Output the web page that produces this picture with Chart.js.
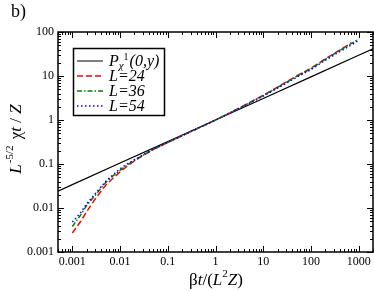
<!DOCTYPE html>
<html><head><meta charset="utf-8">
<script src="https://cdn.jsdelivr.net/npm/chart.js@4/dist/chart.umd.min.js"></script>
<style>html,body{margin:0;padding:0;background:#fff}#wrap{width:374px;height:291px;position:relative}</style>
</head><body><div id="wrap"><canvas id="c" width="374" height="291"></canvas></div>
<script>
// ---- data ----
const xTickValues = [0.001, 0.01, 0.1, 1, 10, 100, 1000];
const xTickLabels = ['0.001', '0.01', '0.1', '1', '10', '100', '1000'];
const yTickValues = [0.001, 0.01, 0.1, 1, 10, 100];
const yTickLabels = ['0.001', '0.01', '0.1', '1', '10', '100'];

const xP = [0.0005, 0.001, 0.01, 0.1, 1, 10, 100, 1000, 2000];
const yP = [0.024, 0.034, 0.105, 0.323, 1.0, 3.09, 9.55, 29.5, 41.6];

const xL24 = [0.001,0.0015,0.002,0.003,0.005,0.007,0.01,0.015,0.02,0.03,0.05,0.1,0.2,0.5,1,2,5,10,20,50,100,200,500,700];
const yL24 = [0.0027,0.0050,0.0083,0.016,0.033,0.047,0.066,0.094,0.118,0.155,0.215,0.31,0.44,0.70,1.0,1.45,2.45,3.65,5.6,10,15,24.5,45,57];
const xL36 = [0.001,0.0015,0.002,0.003,0.005,0.007,0.01,0.015,0.02,0.03,0.05,0.1,0.2,0.5,1,2,5,10,20,50,100,200,500,1000];
const yL36 = [0.0038,0.0070,0.0115,0.0195,0.038,0.053,0.072,0.099,0.121,0.157,0.216,0.31,0.44,0.70,1.0,1.45,2.4,3.6,5.5,9.8,14.6,24,44,69];
const xL54 = [0.001,0.0015,0.002,0.003,0.005,0.007,0.01,0.015,0.02,0.03,0.05,0.1,0.2,0.5,1,2,5,10,20,50,100,200,500,950];
const yL54 = [0.0048,0.0079,0.0125,0.021,0.040,0.056,0.078,0.104,0.125,0.160,0.218,0.31,0.44,0.70,1.0,1.44,2.35,3.5,5.3,9.4,14,22.8,41,62];

const SERIF = '"Liberation Serif", "Times New Roman", serif';

function ds(label, xs, ys, color, dash, width, order) {
  return { label, data: xs.map((x, i) => ({ x, y: ys[i] })), borderColor: color, backgroundColor: color,
    borderDash: dash, borderWidth: width, pointRadius: 0, showLine: true, fill: false, tension: 0, order };
}

function rich(ctx, x, y, parts, align) {
  let w = 0;
  parts.forEach(p => { ctx.font = p.f; w += ctx.measureText(p.t).width + (p.dx || 0); });
  let cx = align === 'center' ? x - w / 2 : x;
  parts.forEach(p => {
    ctx.font = p.f;
    ctx.fillText(p.t, cx + (p.dx || 0), y + (p.dy || 0));
    cx += ctx.measureText(p.t).width + (p.dx || 0);
  });
}

const decor = {
  id: 'decor',
  afterDraw(chart) {
    const ctx = chart.ctx, ca = chart.chartArea;
    const sx = chart.scales.x, sy = chart.scales.y;
    ctx.save();
    ctx.strokeStyle = '#000';
    // ticks (inward, all four sides)
    ctx.lineWidth = 1;
    ctx.beginPath();
    for (let d = -4; d <= 3; d++) {
      for (let m = 1; m <= 9; m++) {
        const v = m * Math.pow(10, d);
        const len = m === 1 ? 6 : 3;
        if (v >= sx.min && v <= sx.max) {
          const px = Math.round(sx.getPixelForValue(v)) + 0.5;
          ctx.moveTo(px, ca.bottom); ctx.lineTo(px, ca.bottom - len);
          ctx.moveTo(px, ca.top); ctx.lineTo(px, ca.top + len);
        }
        if (v >= sy.min && v <= sy.max) {
          const py = Math.round(sy.getPixelForValue(v)) + 0.5;
          ctx.moveTo(ca.left, py); ctx.lineTo(ca.left + len, py);
          ctx.moveTo(ca.right, py); ctx.lineTo(ca.right - len, py);
        }
      }
    }
    ctx.stroke();
    // frame
    ctx.lineWidth = 1.5;
    ctx.strokeRect(ca.left, ca.top, ca.right - ca.left, ca.bottom - ca.top);

    // legend
    const lx = 73.5, ly = 48.5, lw = 91, lh = 67;
    ctx.fillStyle = '#fff';
    ctx.fillRect(lx, ly, lw, lh);
    ctx.lineWidth = 1.5;
    ctx.strokeRect(lx, ly, lw, lh);
    const rows = [61, 76, 91, 106];
    const dss = chart.data.datasets;
    const f = '16px ' + SERIF, fi = 'italic 16px ' + SERIF, fs = 'italic 11px ' + SERIF, fsn = '10px ' + SERIF;
    dss.forEach((d, i) => {
      const y = rows[i];
      ctx.save();
      ctx.strokeStyle = d.borderColor;
      ctx.lineWidth = i === 0 ? 1 : 1.5;
      ctx.setLineDash(d.borderDash || []);
      ctx.beginPath(); ctx.moveTo(77, y); ctx.lineTo(103, y); ctx.stroke();
      ctx.restore();
      ctx.fillStyle = '#000';
      ctx.textBaseline = 'alphabetic';
      if (i === 0) {
        rich(ctx, 109, y + 5, [
          { t: 'P', f: fi }, { t: 'χ', f: fs, dy: 3 }, { t: '1', f: fsn, dy: -6, dx: 0 },
          { t: '(0,', f: fi, dx: 1 }, { t: 'y', f: fi }, { t: ')', f: fi }
        ]);
      } else {
        ctx.font = fi;
        ctx.fillText(d.label, 109, y + 5);
      }
    });

    // axis titles
    ctx.fillStyle = '#000';
    const tf = '17px ' + SERIF, tfi = 'italic 17px ' + SERIF, tsup = '11px ' + SERIF;
    rich(ctx, 216, 285, [
      { t: 'β', f: tf }, { t: 't', f: tfi }, { t: '/(', f: tf }, { t: 'L', f: tfi },
      { t: '2', f: tsup, dy: -8 }, { t: 'Z', f: tfi }, { t: ')', f: tf }
    ], 'center');
    ctx.save();
    ctx.translate(21, 139);
    ctx.rotate(-Math.PI / 2);
    rich(ctx, 0, 0, [
      { t: 'L', f: tfi }, { t: '-5/2', f: tsup, dy: -8, dx: 1 }, { t: ' χ', f: tf, dx: 2 }, { t: 't', f: tfi },
      { t: ' / ', f: tf }, { t: 'Z', f: tfi }
    ], 'center');
    ctx.restore();

    ctx.font = '18px ' + SERIF;
    ctx.fillText('b)', 11, 17);
    ctx.restore();
  }
};

new Chart(document.getElementById('c'), {
  type: 'scatter',
  data: {
    datasets: [
      ds('P', xP, yP, '#000000', [], 1.2, 10),
      ds('L=24', xL24, yL24, '#ff0000', [6, 3], 1.5, 3),
      ds('L=36', xL36, yL36, '#008000', [5, 2, 1.5, 2], 1.5, 2),
      ds('L=54', xL54, yL54, '#0000ff', [1.5, 2.5], 1.5, 1)
    ]
  },
  options: {
    responsive: false,
    animation: false,
    layout: { padding: { top: 32, right: 1, left: 0, bottom: 0 } },
    plugins: { legend: { display: false }, tooltip: { enabled: false } },
    scales: {
      x: {
        type: 'logarithmic', min: 0.0005, max: 2000,
        afterBuildTicks: s => { s.ticks = xTickValues.map(v => ({ value: v })); },
        afterFit: s => { s.height = 39; },
        ticks: { callback: (v, i) => xTickLabels[i], color: '#000', font: { family: SERIF, size: 12 },
          padding: 3, maxRotation: 0, autoSkip: false },
        grid: { display: false, drawTicks: false },
        border: { display: false }
      },
      y: {
        type: 'logarithmic', min: 0.001, max: 100,
        afterBuildTicks: s => { s.ticks = yTickValues.map(v => ({ value: v })); },
        afterFit: s => { s.width = 58; },
        ticks: { callback: (v, i) => yTickLabels[i], color: '#000', font: { family: SERIF, size: 12 },
          padding: 4, autoSkip: false },
        grid: { display: false, drawTicks: false },
        border: { display: false }
      }
    }
  },
  plugins: [decor]
});
</script>
</body></html>
